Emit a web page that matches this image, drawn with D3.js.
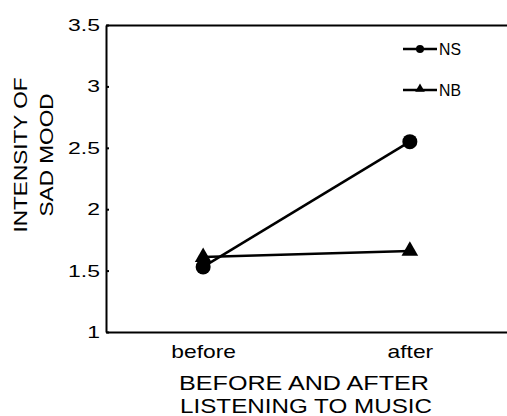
<!DOCTYPE html>
<html>
<head>
<meta charset="utf-8">
<script src="https://cdn.jsdelivr.net/npm/d3@7"></script>
<style>
  body { margin: 0; background: #fff; }
  svg { display: block; font-family: "Liberation Sans", Arial, sans-serif; }
</style>
</head>
<body>
<div id="chart"></div>
<script>
// data
var categories = ["before", "after"]
var nsValues = [1.53, 2.55]
var nbValues = [1.61, 1.66]
var yTicks = [1, 1.5, 2, 2.5, 3, 3.5]
var seriesNames = ["NS", "NB"]

var width = 507, height = 416
var plotLeft = 106, plotRight = 507, plotTop = 25, plotBottom = 332

var svg = d3.select("#chart").append("svg")
    .attr("width", width)
    .attr("height", height)

// the scanned figure is a bit stretched sideways, widen the glyphs to match
function widen(sel, k) {
    sel.each(function() {
        var w = this.getComputedTextLength()
        d3.select(this).attr("textLength", w * k).attr("lengthAdjust", "spacingAndGlyphs")
    })
}

var x = d3.scalePoint()
    .domain(categories)
    .range([plotLeft, plotRight])
    .padding(0.47)

var y = d3.scaleLinear()
    .domain([1, 3.5])
    .range([plotBottom, plotTop])

// left axis, ticks point inward
var yAxis = svg.append("g")
    .attr("transform", "translate(" + plotLeft + ",0)")
    .call(d3.axisLeft(y).tickValues(yTicks).tickSize(-3).tickSizeOuter(0).tickPadding(6)
        .tickFormat(d => String(d)))
yAxis.selectAll("text").attr("font-size", 17).attr("fill", "#000")
    .attr("font-family", "Liberation Sans, Arial, sans-serif")
    .call(widen, 1.35)

// bottom axis with category labels
var xAxis = svg.append("g")
    .attr("transform", "translate(0," + plotBottom + ")")
    .call(d3.axisBottom(x).tickSize(0).tickSizeOuter(0).tickPadding(13))
xAxis.selectAll("text").attr("font-size", 19).attr("fill", "#000")
    .attr("font-family", "Liberation Sans, Arial, sans-serif")
    .call(widen, 1.2)

// top border line
svg.append("g")
    .attr("transform", "translate(0," + plotTop + ")")
    .call(d3.axisTop(x).tickValues([]).tickSizeOuter(0))

svg.selectAll(".domain, .tick line").attr("stroke", "#000").attr("stroke-width", 2)

// data lines
var line = d3.line()
    .x((d, i) => x(categories[i]))
    .y(d => y(d))

svg.append("path")
    .datum(nsValues)
    .attr("d", line)
    .attr("fill", "none")
    .attr("stroke", "#000")
    .attr("stroke-width", 2.5)

svg.append("path")
    .datum(nbValues)
    .attr("d", line)
    .attr("fill", "none")
    .attr("stroke", "#000")
    .attr("stroke-width", 2.5)

svg.selectAll(".ns-pt")
    .data(nsValues)
    .enter().append("circle")
    .attr("class", "ns-pt")
    .attr("cx", (d, i) => x(categories[i]))
    .attr("cy", d => y(d))
    .attr("r", 7.5)
    .attr("fill", "#000")

svg.selectAll(".nb-pt")
    .data(nbValues)
    .enter().append("path")
    .attr("class", "nb-pt")
    .attr("d", d3.symbol().type(d3.symbolTriangle).size(120))
    .attr("transform", (d, i) => "translate(" + x(categories[i]) + "," + y(d) + ")")
    .attr("fill", "#000")

// legend
var legend = svg.append("g").attr("transform", "translate(403,0)")
var legendY = [49, 90]
seriesNames.forEach(function(name, i) {
    var g = legend.append("g").attr("transform", "translate(0," + legendY[i] + ")")
    g.append("line").attr("x1", 0).attr("x2", 34).attr("stroke", "#000").attr("stroke-width", 2.5)
    if (i === 0) {
        g.append("circle").attr("cx", 17).attr("r", 4).attr("fill", "#000")
    } else {
        g.append("path").attr("d", d3.symbol().type(d3.symbolTriangle).size(40))
            .attr("transform", "translate(17,-1)").attr("fill", "#000")
    }
    g.append("text").attr("x", 36).attr("dy", "0.36em")
        .attr("font-size", 16).attr("textLength", 22).attr("lengthAdjust", "spacingAndGlyphs")
        .text(name)
})

// axis titles
var yTitle = svg.append("g").attr("transform", "translate(0,155) rotate(-90)")
yTitle.append("text").attr("x", 0).attr("y", 27).attr("text-anchor", "middle")
    .attr("font-size", 19).attr("textLength", 155).attr("lengthAdjust", "spacingAndGlyphs")
    .text("INTENSITY OF")
yTitle.append("text").attr("x", 0).attr("y", 53).attr("text-anchor", "middle")
    .attr("font-size", 19).attr("textLength", 123).attr("lengthAdjust", "spacingAndGlyphs")
    .text("SAD MOOD")

svg.append("text").attr("x", 304).attr("y", 390).attr("text-anchor", "middle")
    .attr("font-size", 21).attr("textLength", 250).attr("lengthAdjust", "spacingAndGlyphs")
    .text("BEFORE AND AFTER")
svg.append("text").attr("x", 306).attr("y", 413).attr("text-anchor", "middle")
    .attr("font-size", 21).attr("textLength", 252).attr("lengthAdjust", "spacingAndGlyphs")
    .text("LISTENING TO MUSIC")
</script>
</body>
</html>
